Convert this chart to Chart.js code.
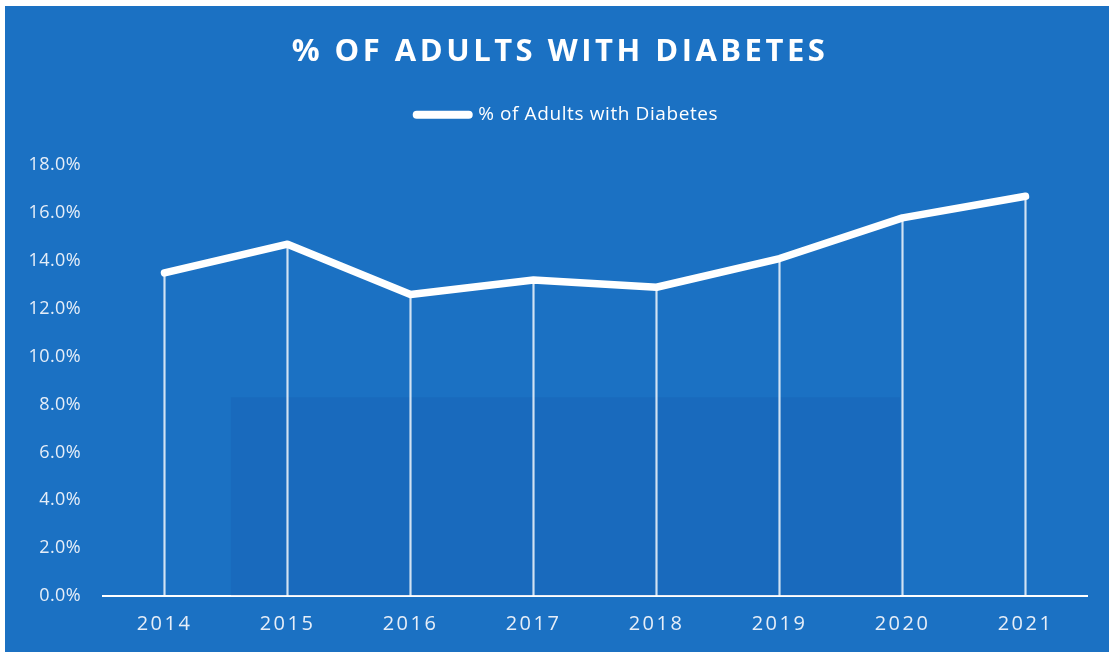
<!DOCTYPE html>
<html>
<head>
<meta charset="utf-8">
<title>% of Adults with Diabetes</title>
<script src="https://cdn.jsdelivr.net/npm/chart.js@4.4.0/dist/chart.umd.min.js"></script>
<style>
    html, body { margin: 0; padding: 0; background: #fff; }
    #wrap { position: absolute; left: 5px; top: 6px; width: 1104px; height: 646px; background: #1b71c3; }
</style>
</head>
<body>
<div id="wrap"><canvas id="diabetesChart"></canvas></div>
<script>
// data
const years = ['2014', '2015', '2016', '2017', '2018', '2019', '2020', '2021'];
const diabetesPct = [13.5, 14.7, 12.6, 13.2, 12.9, 14.1, 15.8, 16.7];
const yMax = 18;
const yStep = 2;

const seriesName = '% of Adults with Diabetes';
const chartTitle = '% OF ADULTS WITH DIABETES';

const textColor = '#e6eef8';

// canvas has no letter-spacing option in Chart.js, so wrap a few draw calls
function withSpacing(obj, method, spacing) {
    const orig = obj[method];
    obj[method] = function (...args) {
        const ctx = this.ctx;
        const prev = ctx.letterSpacing;
        ctx.letterSpacing = spacing;
        orig.apply(this, args);
        ctx.letterSpacing = prev;
    };
}

const spacingPlugin = {
    id: 'spacing',
    beforeUpdate(chart) {
        // extra room between legend and plot
        const legend = chart.legend;
        if (legend && !legend._padded) {
            legend._padded = true;
            const fit = legend.fit;
            legend.fit = function () {
                fit.call(this);
                this.height += 31;
            };
        }
    },
    beforeDraw(chart) {
        if (chart._spaced) return;
        chart._spaced = true;
        withSpacing(chart.titleBlock, 'draw', '3.5px');
        withSpacing(chart.legend, 'draw', '0.6px');
        withSpacing(chart.scales.x, 'drawLabels', '2.5px');
        withSpacing(chart.scales.y, 'drawLabels', '0.4px');
    }
};

// faint darker panel of the scanned page behind the lines
const panelPlugin = {
    id: 'panel',
    beforeDatasetsDraw(chart) {
        const { ctx, chartArea } = chart;
        const x = chart.scales.x, y = chart.scales.y;
        ctx.save();
        ctx.fillStyle = 'rgba(10, 40, 130, 0.09)';
        const left = x.getPixelForValue(0.54);
        const right = x.getPixelForValue(5.98);
        const top = y.getPixelForValue(8.3);
        ctx.fillRect(left, top, right - left, chartArea.bottom - top);
        ctx.restore();
    }
};

const ctx = document.getElementById('diabetesChart').getContext('2d');
new Chart(ctx, {
    type: 'line',
    data: {
        labels: years,
        datasets: [{
            label: seriesName,
            data: diabetesPct,
            borderColor: '#ffffff',
            borderWidth: 7.5,
            borderCapStyle: 'round',
            borderJoinStyle: 'round',
            tension: 0,
            pointRadius: 0,
            pointHoverRadius: 0,
            clip: false,
            order: 0
        }, {
            // thin drop lines from each point down to the axis
            type: 'bar',
            label: 'drop',
            data: diabetesPct,
            backgroundColor: 'rgba(255,255,255,0.8)',
            barThickness: 1.5,
            order: 1
        }]
    },
    options: {
        responsive: true,
        maintainAspectRatio: false,
        animation: false,
        layout: {
            padding: { left: 14, right: 8, top: 0, bottom: 16 }
        },
        plugins: {
            title: {
                display: true,
                text: chartTitle,
                color: '#ffffff',
                font: { family: 'Open Sans', size: 31, weight: 'bold' },
                padding: { top: 28, bottom: 14 }
            },
            legend: {
                display: true,
                labels: {
                    color: '#ffffff',
                    font: { family: 'Open Sans', size: 19 },
                    usePointStyle: true,
                    pointStyleWidth: 52,
                    padding: 20,
                    generateLabels: chart => Chart.defaults.plugins.legend.labels.generateLabels(chart)
                        .filter(item => item.datasetIndex === 0)
                        .map(item => Object.assign(item, {
                            pointStyle: 'line',
                            lineCap: 'round',
                            lineWidth: 8,
                            strokeStyle: '#ffffff'
                        }))
                }
            },
            tooltip: { enabled: false }
        },
        scales: {
            x: {
                offset: true,
                grid: { display: false, drawTicks: false },
                border: { display: true, color: '#ffffff', width: 2 },
                ticks: {
                    color: textColor,
                    font: { family: 'Open Sans', size: 20 },
                    padding: 16
                },
                afterFit: scale => { scale.height = 40; }
            },
            y: {
                min: 0,
                max: yMax,
                grid: { display: false, drawTicks: false },
                border: { display: false },
                ticks: {
                    stepSize: yStep,
                    color: textColor,
                    font: { family: 'Open Sans', size: 18 },
                    padding: 22,
                    callback: v => v.toFixed(1) + '%'
                },
                afterFit: scale => { scale.width = 84; }
            },
            // empty right-hand spacer so the plot ends where the original does
            yRight: {
                position: 'right',
                min: 0,
                max: yMax,
                grid: { display: false, drawTicks: false },
                border: { display: false },
                ticks: { display: false },
                afterFit: scale => { scale.width = 14; }
            }
        }
    },
    plugins: [spacingPlugin, panelPlugin]
});
</script>
</body>
</html>
